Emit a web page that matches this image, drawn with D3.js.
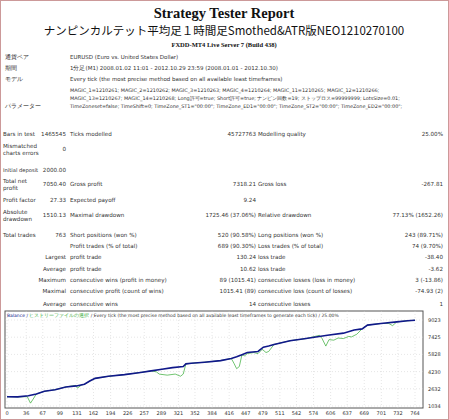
<!DOCTYPE html><html><head><meta charset="utf-8"><script src="https://cdn.jsdelivr.net/npm/d3@7"></script>
<style>body{margin:0;background:#fff}text{font-family:Tahoma,"DejaVu Sans",sans-serif}</style></head><body><svg id="s" width="449" height="420"></svg>
<script>
const xTicks=[0,36,67,99,131,162,194,226,257,289,321,352,384,416,447,479,511,542,574,606,637,669,701,732,764];
const yTicks=[1034,2632,4230,5828,7425,9023];
const balIdx=[0,20,40,55,70,90,110,130,145,155,165,190,220,250,270,290,310,330,335,345,370,400,420,430,440,450,470,480,490,500,530,560,600,630,650,665,675,700,730,750,764];
const balVal=[1900,1880,1980,2150,2400,2550,2800,2900,3050,3350,3600,3800,3950,4150,4300,4450,4600,4700,4950,5000,5100,5250,5450,5600,5800,6000,6100,6500,6600,6750,7100,7300,7600,7800,8100,8200,8550,8700,8850,8950,9000];
const eqIdx=[0,20,38,44,48,55,70,90,110,128,132,140,145,155,165,190,220,250,270,280,285,300,315,325,330,335,345,370,400,420,425,430,435,440,445,450,462,470,478,485,490,500,530,560,585,590,597,603,612,620,630,640,645,655,665,675,700,715,722,730,750,764];
const eqVal=[1900,1880,1900,1300,1600,2150,2400,2550,2800,2950,2700,3000,3050,3350,3600,3800,3950,4150,4300,4200,4000,3900,4000,3800,4000,4950,5000,5100,5250,5450,5000,4500,4700,5800,5700,5900,6000,5900,6300,6000,6100,6750,7100,7300,7600,7300,6600,7200,7150,7350,7300,7500,7450,7700,8200,8550,8700,8700,8500,8850,8950,9000];
const stats=[
 [134,["Bars in test"],"1465545","Ticks modelled","45727763","Modelling quality","25.00%"],
 [149,["Mismatched","charts errors"],"0"],
 [170,["Initial deposit"],"2000.00"],
 [184,["Total net","profit"],"7050.40","Gross profit","7318.21","Gross loss","-267.81"],
 [200,["Profit factor"],"27.33","Expected payoff","9.24"],
 [215,["Absolute","drawdown"],"1510.13","Maximal drawdown","1725.46 (37.06%)","Relative drawdown","77.13% (1652.26)"],
 [235,["Total trades"],"763","Short positions (won %)","520 (90.58%)","Long positions (won %)","243 (89.71%)"],
 [246,[""],"","Profit trades (% of total)","689 (90.30%)","Loss trades (% of total)","74 (9.70%)"],
 [257,[""],"Largest","profit trade","130.24","loss trade","-38.40"],
 [269,[""],"Average","profit trade","10.62","loss trade","-3.62"],
 [280,[""],"Maximum","consecutive wins (profit in money)","89 (1015.41)","consecutive losses (loss in money)","3 (-13.86)"],
 [291,[""],"Maximal","consecutive profit (count of wins)","1015.41 (89)","consecutive loss (count of losses)","-74.93 (2)"],
 [304,[""],"Average","consecutive wins","14","consecutive losses","1"]];
const svg=d3.select("#s");
svg.append("rect").attr("x",0.5).attr("y",0.5).attr("width",448).attr("height",419).attr("fill","#fff").attr("stroke","#c99");
const T=(x,y,t,o={})=>svg.append("text").attr("x",x).attr("y",y).text(t).attr("font-size",o.s||6).attr("fill",o.c||"#333").attr("text-anchor",o.a||"start").attr("font-weight",o.w||"normal").style("font-family",o.f||null);
T(224,18,"Strategy Tester Report",{s:14.5,a:"middle",w:"bold",f:"'Liberation Serif',serif",c:"#111"});
T(224,35,"ナンピンカルテット平均足１時間足Smothed&ATR版NEO1210270100",{s:11.5,a:"middle",f:"'Noto Sans CJK JP','Liberation Serif',serif",c:"#111"});
T(224,47,"FXDD-MT4 Live Server 7 (Build 438)",{s:6.5,a:"middle",w:"bold",f:"'Liberation Serif',serif",c:"#111"});
const hdr=[[59,"通貨ペア","EURUSD (Euro vs. United States Dollar)"],[70,"期間","1分足(M1) 2008.01.02 11:01 - 2012.10.29 23:59 (2008.01.01 - 2012.10.30)"],[81,"モデル","Every tick (the most precise method based on all available least timeframes)"]];
hdr.forEach(h=>{T(5,h[0],h[1],{s:6});T(70,h[0],h[2],{s:5.5});});
["MAGIC_1=1210261; MAGIC_2=1210262; MAGIC_3=1210263; MAGIC_4=1210264; MAGIC_11=1210265; MAGIC_12=1210266;","MAGIC_13=1210267; MAGIC_14=1210268; Long許可=true; Short許可=true; ナンピン回数=19; ストップロス=99999999; LotsSize=0.01;","TimeZoneset=false; TimeShift=0; TimeZone_ST1=\"00:00\"; TimeZone_ED1=\"00:00\"; TimeZone_ST2=\"00:00\"; TimeZone_ED2=\"00:00\";"].forEach((l,i)=>T(70,92+i*8,l,{s:4.9}));
T(5,108,"パラメーター",{s:6});
stats.forEach(r=>{const y=r[0];
 r[1].forEach((l,i)=>T(3,y+(r[1].length>1?(i?3.5:-3.5):0)+2,l,{s:r[1][0]=="Initial deposit"?5.2:5.6}));
 if(r[2])T(66,y+2,r[2],{s:5.6,a:"end"});
 if(r[3])T(70,y+2,r[3],{s:5.6});
 if(r[4])T(256,y+2,r[4],{s:5.6,a:"end"});
 if(r[5])T(258,y+2,r[5],{s:5.6});
 if(r[6])T(443,y+2,r[6],{s:5.6,a:"end"});
});
const L=5,R=423,Tp=311,B=408;
svg.append("rect").attr("x",L).attr("y",Tp).attr("width",R-L).attr("height",B-Tp).attr("fill","#fff").attr("stroke","#555");
const x=d3.scaleLinear().domain([0,764]).range([7,415]);
const y=d3.scaleLinear().domain([1034,9023]).range([406,320]);
const g=svg.append("g");
yTicks.forEach(v=>{g.append("line").attr("x1",L).attr("x2",R).attr("y1",y(v)).attr("y2",y(v)).attr("stroke","#ccc").attr("stroke-dasharray","1,2").attr("stroke-width",0.5);
 T(R+5,y(v)+2,v,{s:5});});
xTicks.forEach(v=>{g.append("line").attr("x1",x(v)).attr("x2",x(v)).attr("y1",Tp).attr("y2",B).attr("stroke","#ccc").attr("stroke-dasharray","1,2").attr("stroke-width",0.5);
 T(x(v),B+7,v,{s:5,a:"middle"});});
const ln=d3.line().x(d=>x(d[0])).y(d=>y(d[1]));
g.append("path").attr("d",ln(eqIdx.map((d,i)=>[d,eqVal[i]]))).attr("fill","none").attr("stroke","#3a3").attr("stroke-width",0.7);
g.append("path").attr("d",ln(balIdx.map((d,i)=>[d,balVal[i]]))).attr("fill","none").attr("stroke","#10188a").attr("stroke-width",1.6);
const lg=svg.append("text").attr("x",7).attr("y",317).attr("font-size",4.5);
lg.append("tspan").attr("fill","#10188a").text("Balance / ");
lg.append("tspan").attr("fill","#3a3").text("ヒストリーファイルの選択");
lg.append("tspan").attr("fill","#333").text(" / Every tick (the most precise method based on all available least timeframes to generate each tick) / 25.00%");
</script></body></html>
